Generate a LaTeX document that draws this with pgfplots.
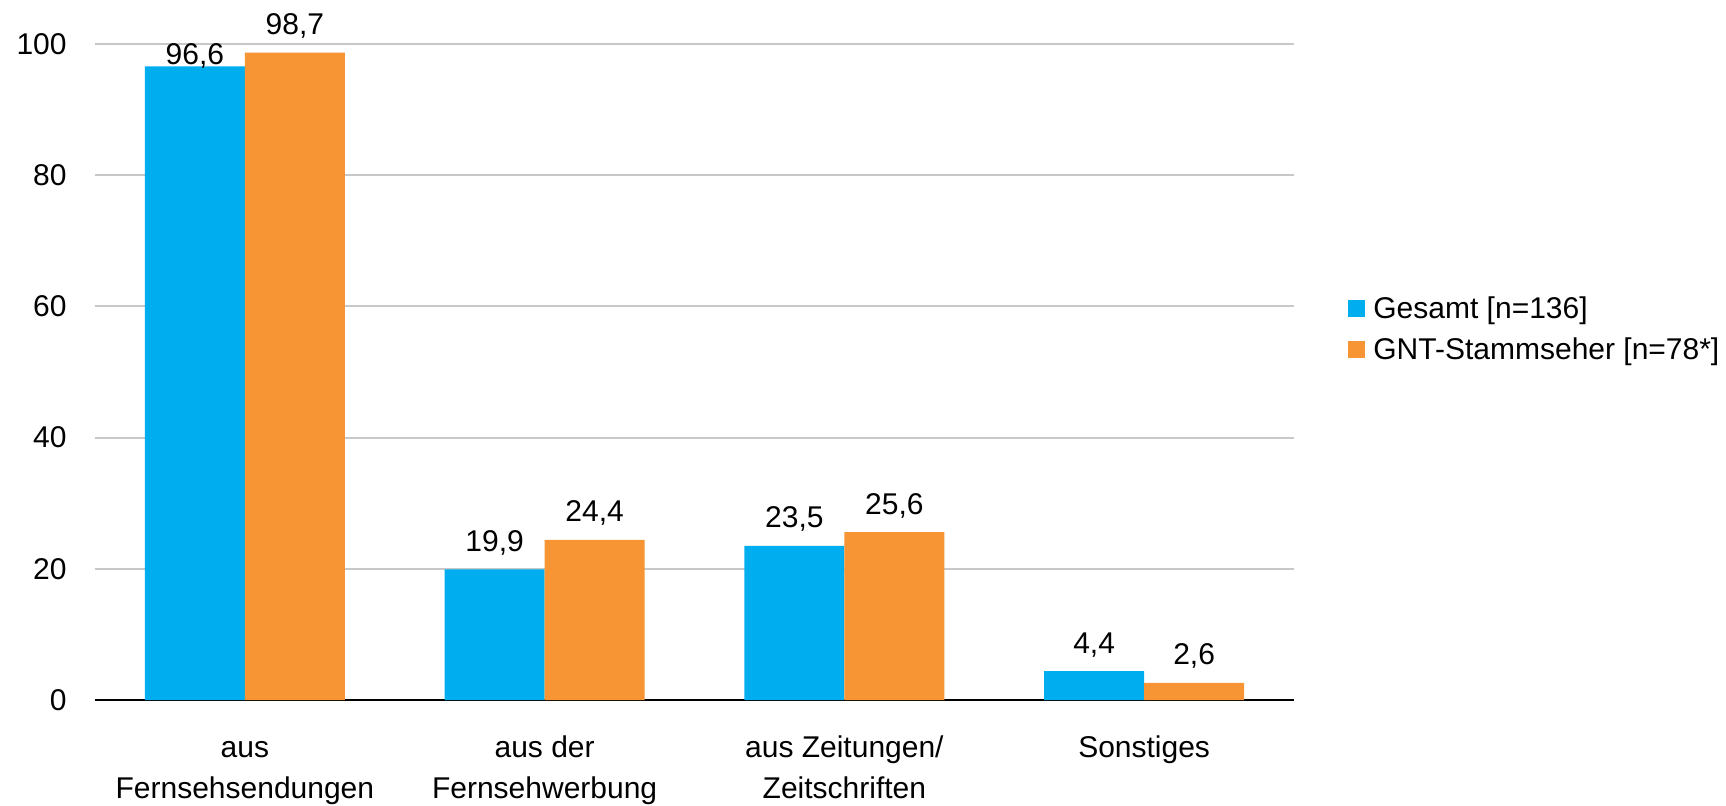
\documentclass[border=0pt]{standalone}
\usepackage{fontspec}
\setmainfont{Liberation Sans}
\usepackage{pgfplots}
\usepackage{pgfplotstable}
\pgfplotsset{compat=1.18}
\definecolor{cblue}{RGB}{0,174,239}
\definecolor{corange}{RGB}{247,148,51}
\definecolor{cgrid}{RGB}{200,200,200}
\pgfplotstableread{
x y off
0 96.6 1
1 19.9 9
2 23.5 9
3 4.4 9
}\gesamt
\pgfplotstableread{
x y off
0 98.7 9
1 24.4 9
2 25.6 9
3 2.6 9
}\gnt
\begin{document}
\begin{tikzpicture}
\begin{axis}[
  scale only axis,
  width=599.5pt, height=328pt,
  xmin=-0.5, xmax=3.5, ymin=0, ymax=100,
  ybar=0pt, bar width=50pt,
  axis x line*=bottom, axis y line*=left,
  y axis line style={draw=none},
  x axis line style={black, line width=1pt},
  xtick={0,1,2,3},
  xticklabels={{\rule{0pt}{11pt}aus\\Fernsehsendungen},{\rule{0pt}{11pt}aus der\\Fernsehwerbung},{\rule{0pt}{11pt}aus Zeitungen/\\Zeitschriften},{\rule{0pt}{11pt}Sonstiges}},
  xticklabel style={align=center, font=\fontsize{15}{20.5}\selectfont, anchor=north, inner sep=0pt, yshift=-17.5pt},
  ytick={0,20,40,60,80,100},
  yticklabel style={font=\fontsize{15}{18}\selectfont, anchor=east, inner sep=0pt, xshift=-14pt},
  /pgf/number format/assume math mode=true,
  major tick length=0pt,
  xtick style={draw=none}, ytick style={draw=none},
  ymajorgrids, grid style={cgrid, line width=1pt},
  visualization depends on={\thisrow{off}\as\myoff},
  nodes near coords,
  nodes near coords style={font=\fontsize{15}{18}\selectfont, anchor=base, inner sep=0pt, yshift=\myoff*1pt,
    /pgf/number format/.cd, fixed, fixed zerofill, precision=1, use comma, assume math mode=true},
  legend style={at={(rel axis cs:1,0.562)}, anchor=west, xshift=27pt, draw=none, fill=none,
    font=\fontsize{15}{18}\selectfont, inner sep=0pt,
    nodes={inner sep=0pt, text height=11pt, text depth=3pt},
    row sep=6.5pt,
    /tikz/every odd column/.append style={column sep=4pt}},
  legend cell align=left,
  legend image code/.code={\fill[#1] (0pt,-3.1pt) rectangle (8.5pt,5.4pt);},
]
\addplot[fill=cblue, draw=none] table[x=x,y=y] {\gesamt};
\addplot[fill=corange, draw=none] table[x=x,y=y] {\gnt};
\legend{Gesamt [n=136], GNT-Stammseher [n=78*]}
\coordinate (bl) at (rel axis cs:0,0);
\coordinate (tr) at (rel axis cs:1,1);
\end{axis}
\pgfresetboundingbox
\path[use as bounding box] ([xshift=-47.5pt,yshift=-52.5pt]bl) rectangle ([xshift=216pt,yshift=22pt]tr);
\end{tikzpicture}
\end{document}
